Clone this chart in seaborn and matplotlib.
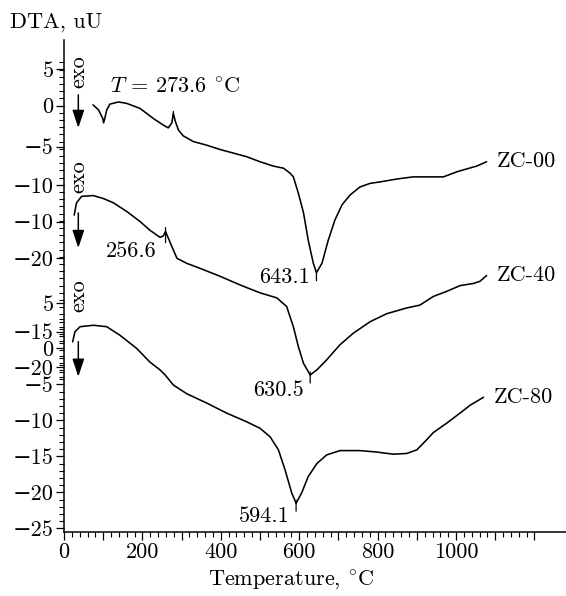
import numpy as np
import pandas as pd
import matplotlib
matplotlib.use("Agg")
import matplotlib.pyplot as plt
import seaborn as sns
from matplotlib.ticker import FixedLocator

# ---------------- data ----------------
temp_zc00 = [74, 88, 99, 101, 104, 109, 117, 139, 160, 194, 228, 253, 266, 275, 279, 284, 292, 304, 330, 364,
             398, 432, 466, 500, 534, 560, 577, 585, 598, 611, 623, 636, 644, 658, 674, 691, 709, 730, 755, 781,
             806, 849, 891, 934, 968, 1002, 1027, 1053, 1078]
dta_zc00 = [0.1, -0.6, -1.8, -2.4, -1.8, -0.6, 0.2, 0.5, 0.3, -0.4, -1.8, -2.7, -3.1, -2.4, -1.1, -2.2, -3.4, -4.2, -5.0, -5.5,
            -6.1, -6.6, -7.1, -7.8, -8.4, -8.7, -9.4, -9.9, -12.2, -14.9, -18.7, -21.9, -23.2, -21.9, -18.7, -15.9, -13.8, -12.4, -11.3, -10.8,
            -10.6, -10.2, -9.9, -9.9, -9.9, -9.2, -8.8, -8.4, -7.8]

temp_zc40 = [26, 32, 45, 75, 100, 126, 160, 194, 219, 245, 253, 259, 266, 288, 313, 347, 398, 449, 500, 543,
             568, 585, 598, 611, 628, 645, 670, 704, 738, 781, 823, 874, 908, 942, 976, 1010, 1044, 1061, 1078]
dta_zc40 = [-9.1, -7.4, -6.5, -6.4, -6.8, -7.4, -8.6, -10.0, -11.2, -12.2, -12.0, -11.4, -12.3, -15.1, -15.8, -16.5, -17.6, -18.8, -19.9, -20.6,
            -21.8, -24.6, -27.4, -29.7, -31.3, -30.6, -29.2, -27.1, -25.5, -23.9, -22.8, -22.0, -21.6, -20.4, -19.7, -18.9, -18.6, -18.3, -17.5]

temp_zc80 = [22, 28, 41, 75, 109, 143, 185, 219, 245, 258, 279, 313, 364, 415, 466, 500, 526, 547, 564, 581,
             592, 606, 623, 645, 670, 704, 755, 798, 840, 874, 900, 925, 942, 976, 1010, 1036, 1070]
dta_zc80 = [0.9, 2.3, 3.0, 3.2, 3.0, 1.8, 0.0, -1.9, -3.0, -3.7, -5.1, -6.3, -7.6, -9.0, -10.2, -11.1, -12.3, -14.1, -16.9, -20.1,
            -21.5, -20.1, -17.8, -16.0, -14.8, -14.2, -14.2, -14.4, -14.7, -14.6, -14.1, -12.7, -11.7, -10.4, -9.0, -7.9, -6.8]

sample_names = ["ZC-00", "ZC-40", "ZC-80"]
curve_offsets = [33.7, 27.6, 0.0]

peak_texts = ["643.1", "630.5", "594.1"]                 # main endothermic minima
small_peak_texts = [r"$T$ = 273.6 $^{\circ}$C", "256.6"]  # small peaks on ZC-00 and ZC-40

ytick_values = [38.75, 33.69, 28.0, 22.68, 17.58, 12.5, 6.25, 2.31, 0.0, -2.64, -5.0, -10.0, -15.0, -20.0, -25.0]
ytick_labels = ["5", "0", "−5", "−10", "−10", "−20", "5", "−15", "0", "−20", "−5", "−10", "−15", "−20", "−25"]
xtick_values = list(range(0, 1201, 100))
xtick_labels = ["0", "", "200", "", "400", "", "600", "", "800", "", "1000", "", ""]

# ---------------- figure ----------------
sns.set_theme(style="ticks")
plt.rcParams["font.family"] = ["cmr10", "DejaVu Serif"]
plt.rcParams["mathtext.fontset"] = "cm"
plt.rcParams["axes.unicode_minus"] = False
FS = 16

W, H = 566, 596
fig = plt.figure(figsize=(W / 100, H / 100), dpi=100)
ax = fig.add_axes([64 / W, (H - 532) / H, (565.8 - 64) / W, (532 - 40) / H])

temps = [temp_zc00, temp_zc40, temp_zc80]
dtas = [dta_zc00, dta_zc40, dta_zc80]
frames = []
for name, t, d, off in zip(sample_names, temps, dtas, curve_offsets):
    frames.append(pd.DataFrame({"Temperature": t, "Signal": np.array(d) + off, "Sample": name}))
df = pd.concat(frames, ignore_index=True)

sns.lineplot(data=df, x="Temperature", y="Signal", units="Sample", estimator=None,
             color="black", lw=1.15, sort=False, legend=False, ax=ax)

ax.set_xlim(0, 1280)
ax.set_ylim(-25.5, 42.8)
sns.despine(ax=ax)
for s in ("left", "bottom"):
    ax.spines[s].set_linewidth(1.1)
    ax.spines[s].set_color("black")

ax.xaxis.set_major_locator(FixedLocator(xtick_values))
ax.set_xticklabels(xtick_labels)
ax.xaxis.set_minor_locator(FixedLocator(list(range(0, 1201, 20))))
ax.yaxis.set_major_locator(FixedLocator(ytick_values))
ax.set_yticklabels(ytick_labels)
minor_y = [float(k) for k in range(-25, 5)] + [k + 0.7 for k in range(-5, 40)]
ax.yaxis.set_minor_locator(FixedLocator(minor_y))
ax.tick_params(which="major", direction="out", length=6.0, width=0.9, color="black",
               labelsize=FS, labelcolor="black", pad=1.5)
ax.tick_params(which="minor", direction="out", length=3.6, width=0.8, color="black")

ax.set_xlabel(r"Temperature, $^{\circ}$C", fontsize=FS, color="black")
ax.xaxis.set_label_coords((291 - 64) / 501.8, (532 - 580) / 492)
ax.xaxis.label.set_va("center")
ax.set_ylabel("DTA, uU", fontsize=FS, rotation=0, color="black")
ax.yaxis.set_label_coords((10 - 64) / 501.8, (532 - 22.7) / 492)
ax.yaxis.label.set_ha("left")
ax.yaxis.label.set_va("center")

PX = 0.72  # points per pixel at 100 dpi


def tick_mark(x, y, up_px, down_px):
    for dy in (up_px, -down_px):
        if dy != 0:
            ax.annotate("", xy=(x, y), xytext=(0, dy * PX), textcoords="offset points",
                        arrowprops=dict(arrowstyle="-", lw=0.9, color="black", shrinkA=0, shrinkB=0))


# curve names at the end of each curve
for name, t, d, off in zip(sample_names, temps, dtas, curve_offsets):
    ax.annotate(name, xy=(t[-1], d[-1] + off), xytext=(10 * PX, 0.5 * PX), textcoords="offset points",
                ha="left", va="center", fontsize=FS, color="black", annotation_clip=False)

# main minima
min_offsets_px = [(-6.7, -4.3), (-6.7, -15), (-6, -12.7)]
min_ticks_px = [(0, 8), (3, 8), (3, 8)]
for txt, t, d, off, (dx, dy), (up, dn) in zip(peak_texts, temps, dtas, curve_offsets, min_offsets_px, min_ticks_px):
    i = int(np.argmin(d))
    x0, y0 = t[i], d[i] + off
    tick_mark(x0, y0, up, dn)
    ax.annotate(txt, xy=(x0, y0), xytext=(dx * PX, dy * PX), textcoords="offset points",
                ha="right", va="center", fontsize=FS, color="black")

# small peaks
for txt, t, d, off, (dx, dy), (up, dn), ha in zip(
        small_peak_texts, temps[:2], dtas[:2], curve_offsets[:2],
        [(1.7, 26.3), (-9, -19.7)], [(2, 4), (4, 11)], ["center", "right"]):
    idx = [k for k in range(len(t)) if 240 < t[k] < 300]
    i = max(idx, key=lambda k: d[k])
    x0, y0 = t[i], d[i] + off
    tick_mark(x0, y0, up, dn)
    ax.annotate(txt, xy=(x0, y0), xytext=(dx * PX, dy * PX), textcoords="offset points",
                ha=ha, va="center", fontsize=FS, color="black")

# "exo" markers with downward arrows
exo_x = 36.5
for y_txt, y_a0, y_a1 in [(38.44, 35.18, 30.6), (23.86, 18.79, 13.93), (7.26, 0.92, -3.94)]:
    ax.text(exo_x, y_txt, "exo", rotation=90, ha="center", va="center", fontsize=FS, color="black")
    ax.annotate("", xy=(exo_x, y_a1), xytext=(exo_x, y_a0),
                arrowprops=dict(arrowstyle="-|>,head_length=0.9,head_width=0.3", lw=1.1, color="black",
                                shrinkA=0, shrinkB=0, mutation_scale=12))

fig.savefig("out.png", dpi=100, facecolor="white")
